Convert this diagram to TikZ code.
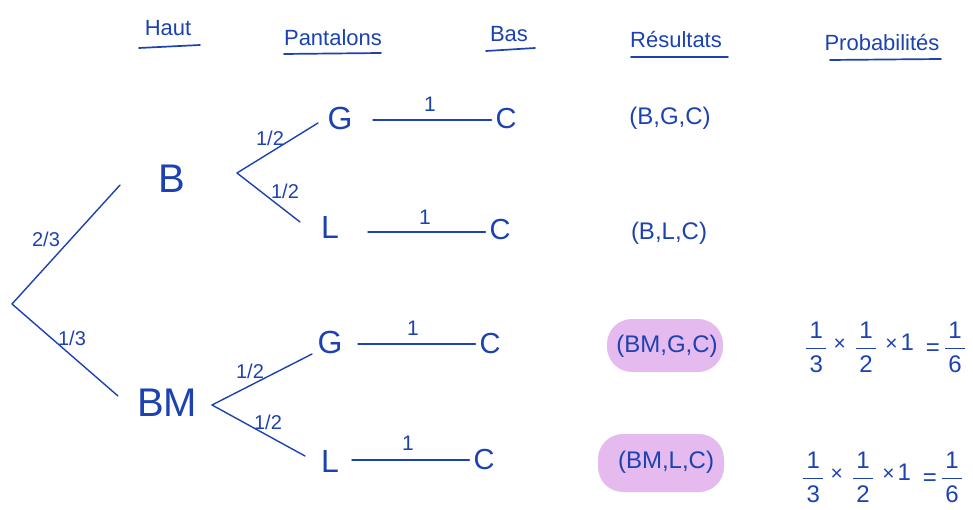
\documentclass[tikz,border=0pt]{standalone}
\usepackage{amsmath}
\usepackage{fontspec}
\setmainfont{Liberation Sans}
\setsansfont{Liberation Sans}
\usetikzlibrary{calc}
\definecolor{ink}{RGB}{28,66,178}
\definecolor{hl}{RGB}{229,186,238}
\newcommand{\fr}[2]{\ensuremath{\dfrac{\makebox[20pt]{#1}}{\makebox[20pt]{#2}}}}
\newcommand{\tms}{\raisebox{5pt}{\fontsize{21}{21}\selectfont ×}}
\newcommand{\probrow}{\fr{1}{3}\hspace{6pt}\tms\hspace{9pt}\fr{1}{2}\hspace{8pt}\tms\hspace{3pt}\raisebox{5pt}{1}\hspace{12pt}=\hspace{4pt}\fr{1}{6}}
\tikzset{
  hdr/.style={text=ink,font=\fontsize{22}{24}\selectfont,inner sep=0pt,anchor=base},
  ul/.style={draw=ink,line width=1.7pt,line cap=round},
  br/.style={draw=ink,line width=1.4pt,line cap=round},
  big/.style={text=ink,font=\fontsize{40}{42}\selectfont,inner sep=0pt},
  mid/.style={text=ink,font=\fontsize{32}{34}\selectfont,inner sep=0pt},
  cc/.style={text=ink,font=\fontsize{29}{31}\selectfont,inner sep=0pt},
  res/.style={text=ink,font=\fontsize{24}{26}\selectfont,inner sep=0pt},
  lab/.style={text=ink,font=\fontsize{20}{22}\selectfont,inner sep=0pt},
  one/.style={text=ink,font=\fontsize{21}{23}\selectfont,inner sep=0pt},
  prob/.style={text=ink,font=\fontsize{24}{26}\selectfont,inner sep=0pt,anchor=west},
  blob/.style={fill=hl,rounded corners=25pt}
}
\begin{document}
\begin{tikzpicture}[x=1pt,y=-1pt]
\useasboundingbox (0,0) rectangle (973,510);
% headers
\node[hdr] (haut) at (168,36) {Haut};
\node[hdr] (pant) at (333,46) {Pantalons};
\node[hdr] (bas) at (509,42) {Bas};
\node[hdr] (resu) at (676,48) {Résultats};
\node[hdr] (prob) at (882,51) {Probabilités};
\draw[ul] (139,48) -- (200,45);
\draw[ul] (284,54) -- (381,53);
\draw[ul] (486,51) -- (535,48);
\draw[ul] (631,57) -- (728,57);
\draw[ul] (830,60) -- (941,59);
% highlights
\path[blob] (607,319) rectangle (723,372);
\path[blob] (598,434) rectangle (724,492);
% level 1
\coordinate (root) at (12,304);
\node[big] (B) at (172,179) {B};
\node[big] (BM) at (167,403) {BM};
\coordinate (rB) at (120,185);
\coordinate (rBM) at (118,396);
\draw[br] (root) -- (rB);
\draw[br] (root) -- (rBM);
\node[lab] (l23) at (46,239) {2/3};
\node[lab] (l13) at (72,338) {1/3};
% B branch
\coordinate (pB) at (237,173);
\node[mid] (G1) at (340,118) {G};
\node[mid] (L1) at (330,227) {L};
\coordinate (eG1) at (318,123);
\coordinate (eL1) at (300,222);
\draw[br] (pB) -- (eG1);
\draw[br] (pB) -- (eL1);
\node[lab] (lg1) at (270,138) {1/2};
\node[lab] (ll1) at (285,191) {1/2};
\node[cc] (C1) at (506,119) {C};
\node[cc] (C2) at (500,230) {C};
\coordinate (s1) at (373,120);
\coordinate (s2) at (368,232);
\draw[br,shorten >=4pt] (s1) -- (s1 -| C1.west);
\draw[br,shorten >=4pt] (s2) -- (s2 -| C2.west);
\node[one] (o1) at (430,104) {1};
\node[one] (o2) at (425,217) {1};
% BM branch
\coordinate (pBM) at (212,405);
\node[mid] (G2) at (330,342) {G};
\node[mid] (L2) at (330,461) {L};
\coordinate (eG2) at (312,354);
\coordinate (eL2) at (305,456);
\draw[br] (pBM) -- (eG2);
\draw[br] (pBM) -- (eL2);
\node[lab] (lg2) at (250,371) {1/2};
\node[lab] (ll2) at (268,422) {1/2};
\node[cc] (C3) at (490,344) {C};
\node[cc] (C4) at (484,460) {C};
\coordinate (s3) at (358,344);
\coordinate (s4) at (352,460);
\draw[br,shorten >=4pt] (s3) -- (s3 -| C3.west);
\draw[br,shorten >=4pt] (s4) -- (s4 -| C4.west);
\node[one] (o3) at (413,328) {1};
\node[one] (o4) at (408,443) {1};
% results
\node[res] (r1) at (670,118) {(B,G,C)};
\node[res] (r2) at (669,233) {(B,L,C)};
\node[res] (r3) at (667,346) {(BM,G,C)};
\node[res] (r4) at (666,462) {(BM,L,C)};
% probabilities
\node[prob] (p1) at (805,347) {\probrow};
\node[prob] (p2) at (802,477) {\probrow};
\end{tikzpicture}
\end{document}
